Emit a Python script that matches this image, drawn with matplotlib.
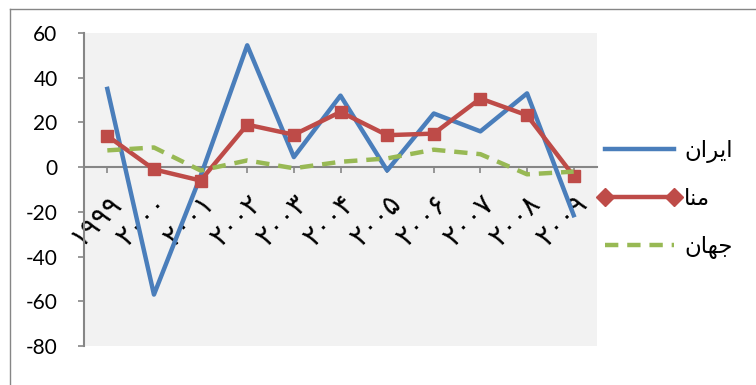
import matplotlib
matplotlib.use("Agg")
import matplotlib.pyplot as plt
from matplotlib.lines import Line2D

years = ["۱۹۹۹", "۲۰۰۰", "۲۰۰۱", "۲۰۰۲", "۲۰۰۳", "۲۰۰۴", "۲۰۰۵", "۲۰۰۶", "۲۰۰۷", "۲۰۰۸", "۲۰۰۹"]
iran = [35, -57, -4, 54.5, 4.5, 32, -1.5, 24, 16, 33, -21.5]
mena = [14, -1, -6, 19, 14.5, 24.7, 14.3, 15, 30.7, 23.2, -4]
world = [7.5, 8.8, -1.5, 3, -0.5, 2.4, 3.9, 7.8, 5.8, -3.2, -2]

# legend labels, pre-shaped (matplotlib has no arabic shaping / bidi)
lbl_iran = "\uFEE5\uFE8D\uFEAE\uFEF3\uFE8D"   # ایران
lbl_mena = "\uFE8E\uFEE8\uFEE3"               # منا
lbl_world = "\uFEE5\uFE8E\uFEEC\uFE9F"        # جهان

blue = "#4A7EBB"
red = "#BE4B48"
green = "#98B954"
grey = "#868686"

plt.rcParams["font.family"] = ["Lato", "DejaVu Sans"]
plt.rcParams["axes.unicode_minus"] = False

fig = plt.figure(figsize=(7.56, 3.85), dpi=100)
ax = fig.add_axes([84 / 756, 1 - 346 / 385, 513 / 756, 313 / 385])
ax.set_facecolor("#F2F2F2")

for s in ["top", "right"]:
    ax.spines[s].set_visible(False)
ax.spines["bottom"].set_position(("data", 0))
ax.spines["bottom"].set_color(grey)
ax.spines["bottom"].set_linewidth(1.5)
ax.spines["left"].set_color(grey)
ax.spines["left"].set_linewidth(1.5)

x = list(range(len(years)))
ax.plot(x, iran, color=blue, lw=3.2, zorder=3)
ax.plot(x, mena, color=red, lw=3.2, marker="s", ms=9, zorder=4)
ax.plot(x, world, color=green, lw=3.2, ls=(0, (3, 2)), zorder=5)

ax.set_xlim(-0.5, len(years) - 0.5)
ax.set_ylim(-80, 60)
ax.set_yticks(range(-80, 61, 20))
ax.set_xticks(x)
ax.set_xticklabels(years, rotation=45, ha="right", va="top", rotation_mode="anchor",
                   family=["DejaVu Sans"])
ax.tick_params(axis="y", length=4, width=1.2, color=grey, pad=15, labelsize=15)
ax.tick_params(axis="x", length=4, width=1.2, color=grey, pad=12, labelsize=20)

handles = [
    Line2D([], [], color=blue, lw=3.2),
    Line2D([], [], color=red, lw=3.2, marker="D", ms=9),
    Line2D([], [], color=green, lw=3.2, ls=(0, (3, 2))),
]
fig.legend(handles, [lbl_iran, lbl_mena, lbl_world], loc="center left",
           bbox_to_anchor=(598 / 756, 1 - 199 / 385), frameon=False,
           prop={"family": ["DejaVu Sans"], "size": 16.5},
           handlelength=3.6, handletextpad=0.15, labelspacing=1.05, numpoints=2,
           borderpad=0, borderaxespad=0)

# chart border (left and top edges visible)
fig.add_artist(Line2D([10 / 756, 10 / 756], [0, 1 - 9 / 385], color=grey, lw=1,
                      transform=fig.transFigure))
fig.add_artist(Line2D([10 / 756, 1], [1 - 9 / 385, 1 - 9 / 385], color=grey, lw=1,
                      transform=fig.transFigure))

fig.savefig("out.png", dpi=100)
